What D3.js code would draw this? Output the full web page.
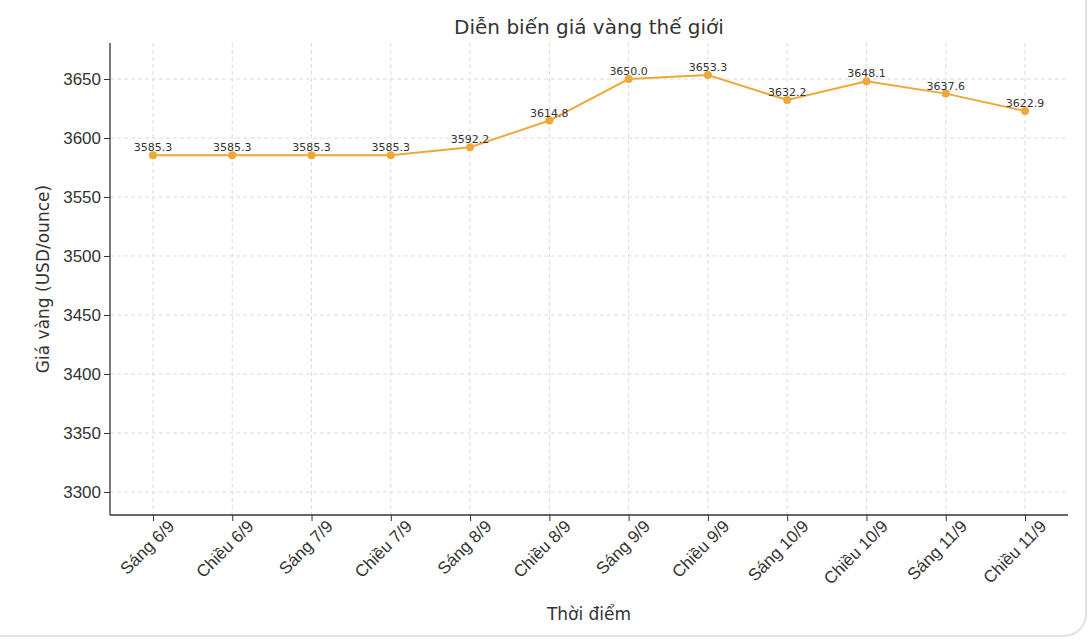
<!DOCTYPE html>
<html><head><meta charset="utf-8">
<script src="https://cdn.jsdelivr.net/npm/d3@7"></script>
<style>body{margin:0;background:#fff;font-family:"DejaVu Sans",sans-serif}</style>
</head><body>
<svg id="chart" width="1090" height="640"></svg>
<script>
const labels = ['Sáng 6/9','Chiều 6/9','Sáng 7/9','Chiều 7/9','Sáng 8/9','Chiều 8/9','Sáng 9/9','Chiều 9/9','Sáng 10/9','Chiều 10/9','Sáng 11/9','Chiều 11/9']
const prices = [3585.3,3585.3,3585.3,3585.3,3592.2,3614.8,3650.0,3653.3,3632.2,3648.1,3637.6,3622.9]
const yTicks = [3300,3350,3400,3450,3500,3550,3600,3650]

const svg = d3.select('#chart')
const m = {l:110, r:1068, t:43, b:515}
const color = '#f0a73a'

svg.append('rect').attr('x',-20).attr('y',-20).attr('width',1106).attr('height',656)
  .attr('rx',22).attr('fill','none').attr('stroke','#e2e2e2').attr('stroke-width',2)

const x = d3.scalePoint().domain(labels).range([m.l, m.r]).padding(0.542)
const y = d3.scaleLinear().domain([3280.5, 3680.5]).range([m.b, m.t])

// grid
svg.append('g').selectAll('line').data(yTicks).join('line')
  .attr('x1',m.l).attr('x2',m.r).attr('y1',d=>y(d)).attr('y2',d=>y(d))
  .attr('stroke','#dcdcdc').attr('stroke-dasharray','4,3')
svg.append('g').selectAll('line').data(labels).join('line')
  .attr('x1',d=>x(d)).attr('x2',d=>x(d)).attr('y1',m.t).attr('y2',m.b)
  .attr('stroke','#dcdcdc').attr('stroke-dasharray','4,3')

const xAxis = svg.append('g').attr('transform',`translate(0,${m.b})`)
  .call(d3.axisBottom(x).tickSizeOuter(0).tickSize(6))
xAxis.select('.domain').attr('d',`M${m.l},0H${m.r}`)
xAxis.selectAll('text').attr('font-size',17).attr('fill','#333')
  .attr('text-anchor','end').attr('dx','0.4em').attr('dy','0.9em')
  .attr('transform','rotate(-45)')

const yAxis = svg.append('g').attr('transform',`translate(${m.l},0)`)
  .call(d3.axisLeft(y).tickValues(yTicks).tickFormat(d3.format('d')).tickSizeOuter(0).tickSize(6))
yAxis.select('.domain').attr('d',`M0,${m.t}V${m.b}`)
yAxis.selectAll('text').attr('font-size',17).attr('fill','#333')
svg.selectAll('.domain').attr('stroke','#333').attr('stroke-width',1.3)
svg.selectAll('.tick line').attr('stroke','#333')

svg.append('path').datum(prices)
  .attr('d', d3.line().x((d,i)=>x(labels[i])).y(d=>y(d)))
  .attr('fill','none').attr('stroke',color).attr('stroke-width',2)
svg.append('g').selectAll('circle').data(prices).join('circle')
  .attr('cx',(d,i)=>x(labels[i])).attr('cy',d=>y(d)).attr('r',4).attr('fill',color)
svg.append('g').selectAll('text').data(prices).join('text')
  .attr('x',(d,i)=>x(labels[i])).attr('y',d=>y(d)-4)
  .attr('text-anchor','middle').attr('font-size',11).attr('fill','#333')
  .text(d=>d.toFixed(1))

svg.append('text').attr('x',589).attr('y',34).attr('text-anchor','middle')
  .attr('font-size',20).attr('fill','#333').text('Diễn biến giá vàng thế giới')
svg.append('text').attr('x',589).attr('y',620).attr('text-anchor','middle')
  .attr('font-size',17).attr('fill','#333').text('Thời điểm')
svg.append('text').attr('transform','translate(49,279) rotate(-90)').attr('text-anchor','middle')
  .attr('font-size',17).attr('fill','#333').text('Giá vàng (USD/ounce)')
</script>
</body></html>
